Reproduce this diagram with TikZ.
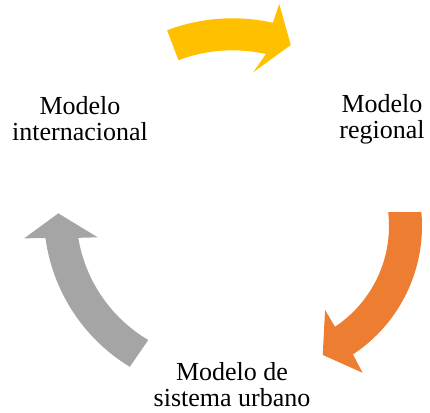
\documentclass[tikz,border=0pt]{standalone}
\usepackage{fontspec}
\setmainfont{Liberation Serif}
\definecolor{cyellow}{HTML}{FFC000}
\definecolor{corange}{HTML}{ED7D31}
\definecolor{cgray}{HTML}{A5A5A5}
\begin{document}
\begin{tikzpicture}[x=1pt,y=1pt,
  lbl/.style={font=\fontsize{26}{26}\selectfont, align=center, inner sep=0pt}]
\useasboundingbox (0,0) rectangle (430,412);
% yellow arrow (top)
\begin{scope}[shift={(232.5,208.7)}]
\fill[cyellow] (110.7:185pt) arc[start angle=110.7,end angle=77.4,radius=185pt]
  -- (76.8:204.7pt) -- (69.8:168.7pt) -- (81.0:132.6pt) -- (77.4:153pt)
  arc[start angle=77.4,end angle=110.7,radius=153pt] -- cycle;
\end{scope}
% orange arrow (right)
\begin{scope}[shift={(268,186)}]
\fill[corange] (5.2:154pt) arc[start angle=5.2,end angle=-56.5,radius=154pt]
  -- (-57.2:174.6pt) -- (-67:140.1pt) -- (-55.8:101.5pt) -- (-56.4:121pt)
  arc[start angle=-56.4,end angle=6.6,radius=121pt] -- cycle;
\end{scope}
% gray arrow (left)
\begin{scope}[shift={(222.8,198.1)}]
\fill[cgray] (238.7:179pt) arc[start angle=238.7,end angle=187.8,radius=179pt]
  -- (187:200pt) -- (179.8:164.5pt) -- (190.6:127.3pt) -- (189.4:146.5pt)
  arc[start angle=189.4,end angle=239.4,radius=146.5pt] -- cycle;
\end{scope}
\node[lbl] (intl) at (80,293) {Modelo\\internacional};
\node[lbl] (reg) at (382,293) {Modelo\\regional};
\node[lbl] (urb) at (232,27) {Modelo de\\sistema urbano};
\end{tikzpicture}
\end{document}
